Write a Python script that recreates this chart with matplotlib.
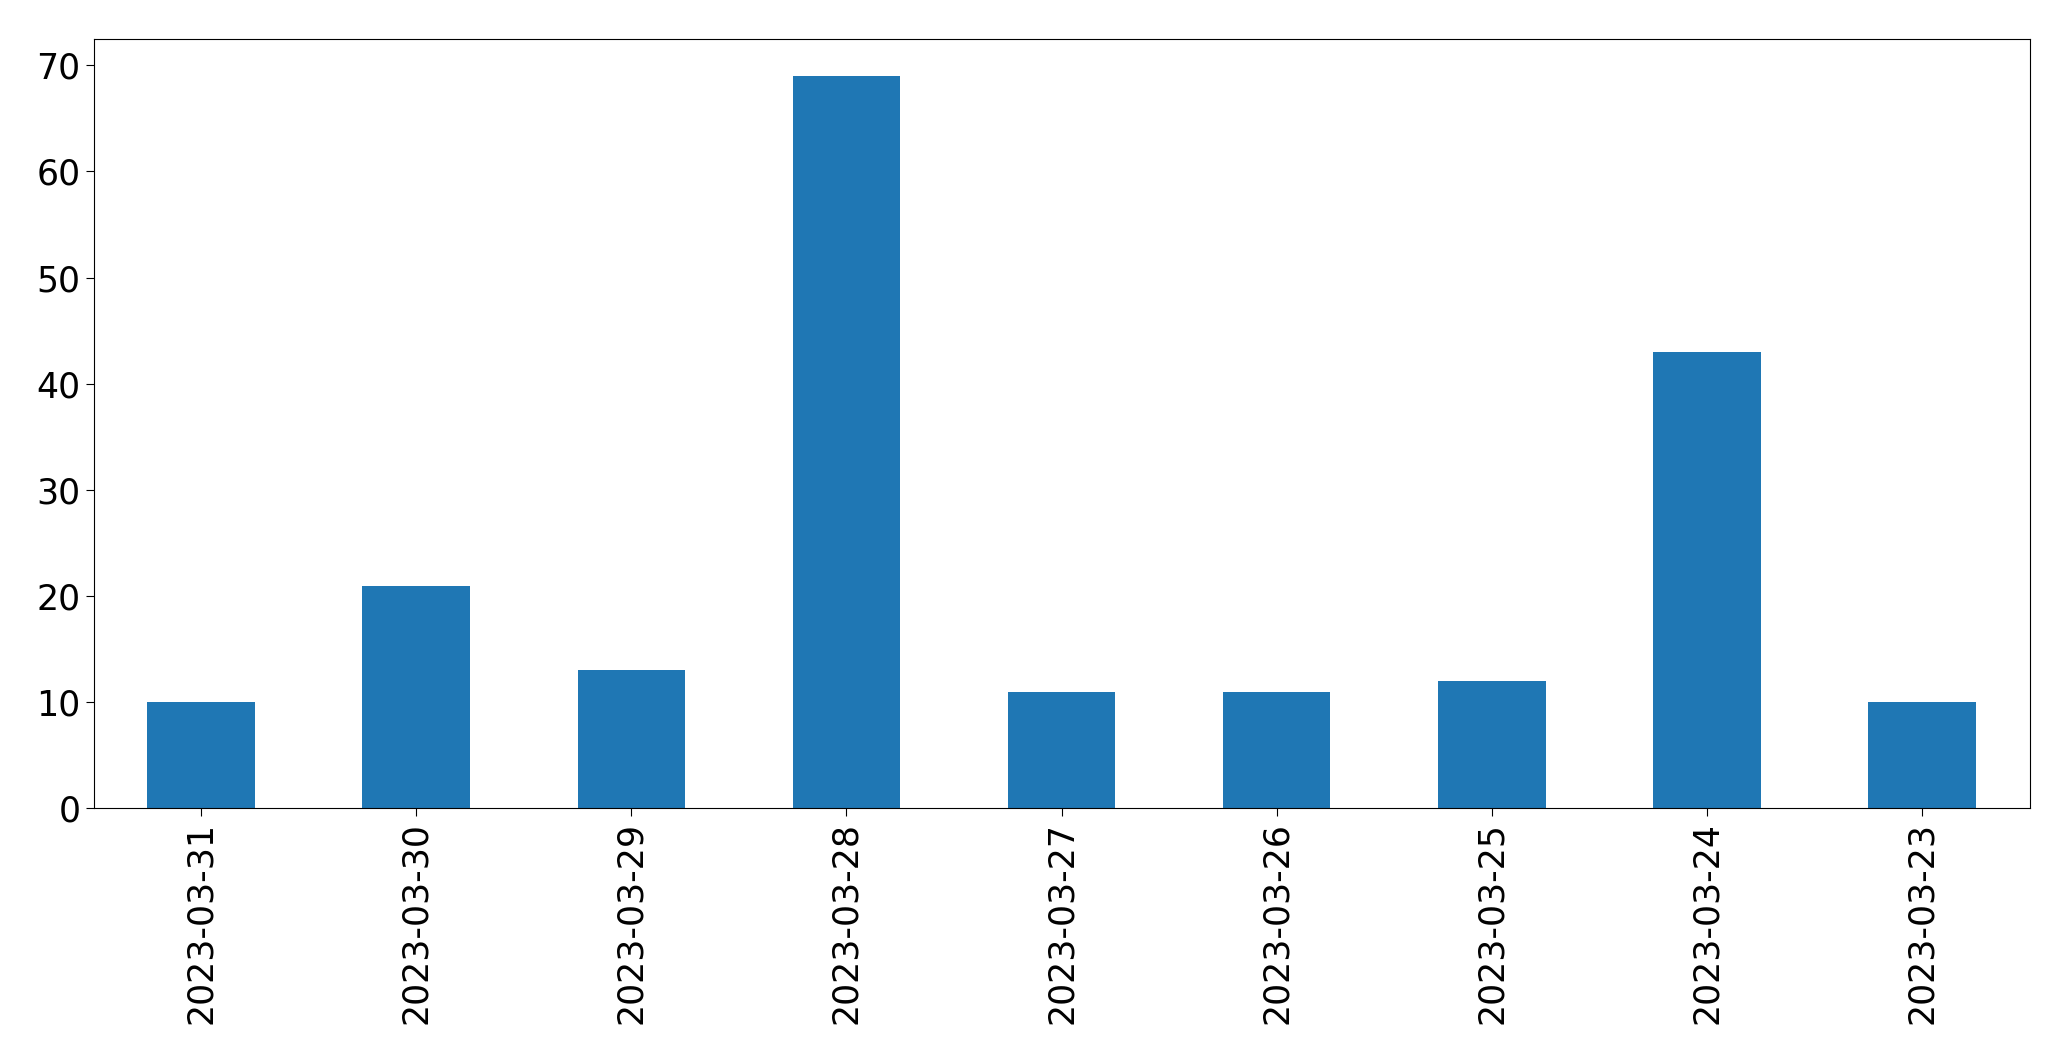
import matplotlib
matplotlib.use("Agg")
import matplotlib.pyplot as plt
import numpy as np

dates = ["2023-03-31", "2023-03-30", "2023-03-29", "2023-03-28", "2023-03-27",
         "2023-03-26", "2023-03-25", "2023-03-24", "2023-03-23"]
counts = [10, 21, 13, 69, 11, 11, 12, 43, 10]

fig = plt.figure(figsize=(20.71, 10.61), dpi=100)
ax = fig.add_axes([0.0452, 0.238, 0.9348, 0.725])

x = np.arange(len(dates))
ax.bar(x, counts, width=0.5, color="#1f77b4")
ax.set_xlim(-0.5, len(dates) - 0.5)
ax.set_ylim(0, 72.45)
ax.set_xticks(x)
ax.set_xticklabels(dates, rotation=90)
ax.tick_params(labelsize=25, length=6)

fig.savefig("out.png", dpi=100)
